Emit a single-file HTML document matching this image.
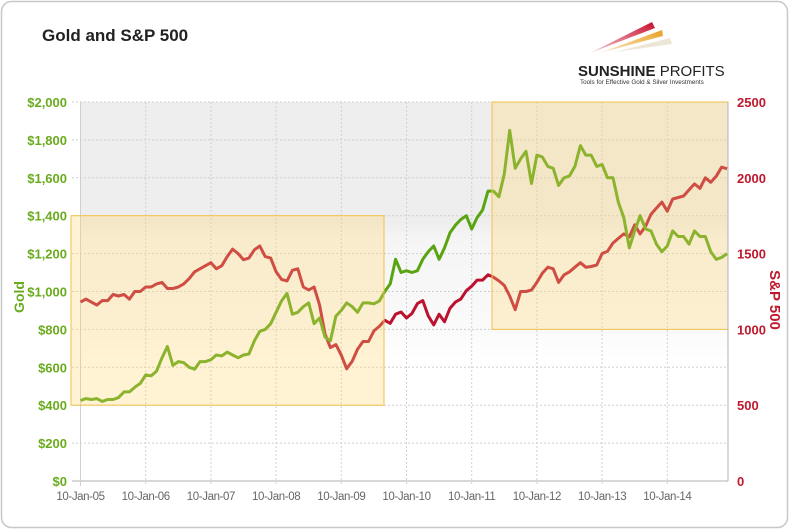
<!DOCTYPE html>
<html><head><meta charset="utf-8"><style>
body{margin:0;background:#fff;font-family:"Liberation Sans",sans-serif}
#wrap{position:relative;width:790px;height:531px;overflow:hidden}
</style></head><body>
<div id="wrap">
<svg id="chart" width="790" height="531" xmlns="http://www.w3.org/2000/svg">
<defs>
<linearGradient id="bg" x1="0" y1="0" x2="0" y2="1">
<stop offset="0" stop-color="#eeeeee"/><stop offset="0.32" stop-color="#eeeeee"/>
<stop offset="0.36" stop-color="#f5f5f5"/><stop offset="0.6" stop-color="#fafafa"/><stop offset="0.68" stop-color="#ffffff"/>
</linearGradient>
<linearGradient id="sw1" x1="0" y1="1" x2="1" y2="0"><stop offset="0" stop-color="#c8102e" stop-opacity="0.2"/><stop offset="1" stop-color="#c8102e"/></linearGradient>
<linearGradient id="sw2" x1="0" y1="1" x2="1" y2="0"><stop offset="0" stop-color="#e8a020" stop-opacity="0.2"/><stop offset="1" stop-color="#e8a020"/></linearGradient>
</defs>
<rect x="1.5" y="1.5" width="786" height="526" rx="10" fill="#fff" stroke="#c8c8c8" stroke-width="1.5"/>
<text x="42" y="41" font-size="17" font-weight="bold" fill="#222">Gold and S&amp;P 500</text>
<g>
<polygon points="590,53 652,22 655,28" fill="url(#sw1)"/>
<polygon points="600,53 662,30 663,36" fill="url(#sw2)"/>
<polygon points="615,52 670,38 672,44" fill="#ece6d6"/>
<text x="578" y="76" font-size="15" font-weight="bold" fill="#222">SUNSHINE <tspan font-weight="normal">PROFITS</tspan></text>
<text x="580" y="84" font-size="6.3" fill="#333">Tools for Effective Gold &amp; Silver Investments</text>
</g>
<rect x="80" y="102" width="648" height="379" fill="url(#bg)"/>
<g id="grid"></g>
<g id="lines"></g>
<g id="boxes"></g>
<g id="axes"></g>
<text transform="translate(24,297) rotate(-90)" text-anchor="middle" font-size="14" font-weight="bold" fill="#6aab1e">Gold</text>
<text transform="translate(770,300) rotate(90)" text-anchor="middle" font-size="15" font-weight="bold" fill="#c0182c">S&amp;P 500</text>
</svg>
</div>
<script>
const years=["10-Jan-05","10-Jan-06","10-Jan-07","10-Jan-08","10-Jan-09","10-Jan-10","10-Jan-11","10-Jan-12","10-Jan-13","10-Jan-14"];
const goldTicks=[0,200,400,600,800,1000,1200,1400,1600,1800,2000];
const spTicks=[0,500,1000,1500,2000,2500];
const gold=[425,435,430,435,420,430,430,440,470,470,495,515,
560,555,580,650,710,610,630,625,600,590,630,630,
640,665,660,680,665,650,665,670,740,790,800,830,
890,950,990,880,890,920,940,830,860,760,740,870,
900,940,920,890,940,940,935,950,1000,1040,1170,1100,
1110,1100,1110,1170,1210,1240,1170,1230,1310,1350,1380,1400,
1330,1390,1430,1530,1530,1500,1620,1850,1650,1700,1740,1570,
1720,1710,1660,1650,1560,1600,1610,1660,1770,1720,1720,1660,
1670,1600,1600,1470,1390,1230,1320,1400,1330,1320,1250,1210,
1240,1320,1290,1290,1250,1320,1290,1290,1210,1170,1180,1200];
const sp=[1180,1200,1180,1160,1190,1190,1230,1220,1230,1200,1250,1250,
1280,1280,1300,1310,1270,1270,1280,1300,1335,1380,1400,1420,
1440,1400,1420,1480,1530,1500,1460,1470,1525,1550,1480,1470,
1380,1330,1320,1390,1400,1280,1260,1280,1160,970,880,900,
830,740,790,870,920,920,990,1020,1060,1040,1100,1115,
1075,1105,1170,1190,1090,1030,1100,1050,1140,1180,1200,1255,
1285,1325,1325,1360,1345,1320,1290,1220,1130,1250,1250,1260,
1310,1370,1410,1400,1310,1360,1380,1410,1440,1410,1415,1425,
1500,1515,1570,1600,1630,1610,1690,1630,1680,1760,1800,1840,
1780,1860,1870,1880,1920,1960,1930,2000,1970,2010,2070,2060];
const boxGold=[1400,400];
const boxSp=[2500,1000];
const NS="http://www.w3.org/2000/svg";
const X0=80.5,YR=65.2,T=102,B=481;
const xm=i=>X0+i*YR/12;
const yg=v=>B-(v/2000)*(B-T);
const ys=v=>B-(v/2500)*(B-T);
function mk(tag,at,parent){const e=document.createElementNS(NS,tag);for(const k in at)e.setAttribute(k,at[k]);document.getElementById(parent).appendChild(e);return e;}
goldTicks.forEach(v=>{
 const l=mk('line',{x1:72,x2:728,y1:yg(v),y2:yg(v),stroke:v===0?'#d8d8d8':'#cfcfcf','stroke-width':v===0?2:1,'stroke-dasharray':v===0?'':'2,2'},'grid');
 
 
 const t=mk('text',{x:67,y:yg(v)+5,'text-anchor':'end','font-size':13,'font-weight':'bold',fill:'#6aab1e'},'axes');
 t.textContent='$'+v.toLocaleString('en-US');
 
 
});
years.forEach((y,i)=>{
 const x=X0+i*YR;
 const l=mk('line',{x1:x,x2:x,y1:T,y2:486,stroke:'#d0d0d0','stroke-dasharray':i===0?'':'2,2'},'grid');
 
 
 const t=mk('text',{x:x,y:500,'text-anchor':'middle','font-size':11.5,fill:'#666','letter-spacing':'-0.4'},'axes');
 t.textContent=y;
 
 
});
const ax=mk('line',{x1:728,x2:728,y1:T,y2:481,stroke:'#b0b0b0','stroke-width':1},'axes');


spTicks.forEach(v=>{
 const t=mk('text',{x:737,y:ys(v)+5,'font-size':13,'font-weight':'bold',fill:'#c0182c'},'axes');
 t.textContent=v;
 
 
});
function path(arr,yf){return arr.map((v,i)=>(i?'L':'M')+xm(i).toFixed(1)+','+yf(v).toFixed(1)).join('');}
const ps=mk('path',{d:path(sp,ys),fill:'none',stroke:'#bb1230','stroke-width':3,'stroke-linejoin':'round'},'lines');


const pg=mk('path',{d:path(gold,yg),fill:'none',stroke:'#5aa412','stroke-width':3,'stroke-linejoin':'round'},'lines');


const b1=mk('rect',{x:71,y:yg(boxGold[0]),width:313,height:yg(boxGold[1])-yg(boxGold[0]),fill:'rgba(255,214,110,0.3)',stroke:'#f2c24a','stroke-width':1},'boxes');


const b2=mk('rect',{x:492,y:ys(boxSp[0]),width:236,height:ys(boxSp[1])-ys(boxSp[0]),fill:'rgba(255,214,110,0.3)',stroke:'#f2c24a','stroke-width':1},'boxes');


</script>
</body></html>
